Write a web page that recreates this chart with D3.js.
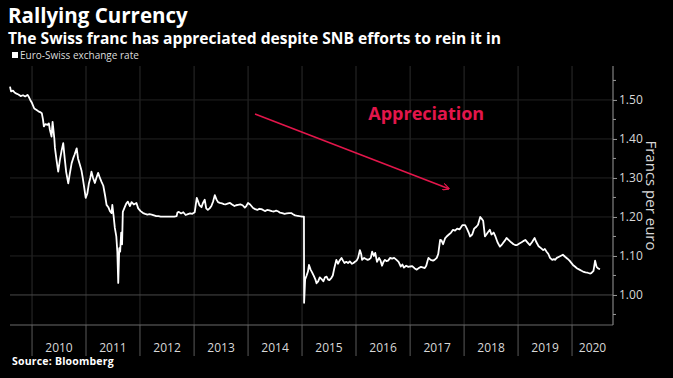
<!DOCTYPE html>
<html>
<head>
<meta charset="utf-8">
<script src="https://cdn.jsdelivr.net/npm/d3@7"></script>
<style>
  body { margin: 0; background: #000; }
  svg { display: block; font-family: "Open Sans", "DejaVu Sans", sans-serif; }
</style>
</head>
<body>
<div id="chart"></div>
<script>
// Euro-Swiss exchange rate
const dates = [
  "2009-08-05","2009-08-12","2009-08-25","2009-09-05","2009-09-18","2009-10-01","2009-10-16","2009-11-01","2009-11-16","2009-12-01","2009-12-10","2009-12-20",
  "2010-01-01","2010-01-16","2010-02-01","2010-02-16","2010-03-01","2010-03-08","2010-03-16","2010-03-22","2010-04-01","2010-04-16","2010-04-25","2010-05-01",
  "2010-05-13","2010-05-20","2010-06-01","2010-06-05","2010-06-16","2010-06-27","2010-07-08","2010-07-20","2010-07-31","2010-08-10","2010-08-20","2010-09-03",
  "2010-09-13","2010-09-26","2010-10-06","2010-10-16","2010-10-30","2010-11-08","2010-11-21","2010-12-01","2010-12-10","2010-12-20","2010-12-30",
  "2011-01-10","2011-01-20","2011-01-30","2011-02-07","2011-02-18","2011-03-02","2011-03-12","2011-03-24","2011-04-05","2011-04-16","2011-04-28","2011-05-10",
  "2011-05-20","2011-06-01","2011-06-12","2011-06-23","2011-06-28","2011-07-06","2011-07-15","2011-07-25","2011-08-01","2011-08-07","2011-08-14","2011-08-20",
  "2011-08-27","2011-09-02","2011-09-07","2011-09-20","2011-10-01","2011-10-11","2011-10-25","2011-11-05","2011-11-20","2011-12-08","2011-12-20",
  "2012-01-05","2012-01-22","2012-02-05","2012-02-20","2012-03-05","2012-03-20","2012-04-05","2012-04-20","2012-05-05","2012-05-20","2012-06-05","2012-06-20",
  "2012-07-05","2012-07-20","2012-08-05","2012-08-20","2012-09-05","2012-09-10","2012-09-20","2012-10-05","2012-10-20","2012-11-05","2012-11-20","2012-12-05","2012-12-20",
  "2013-01-05","2013-01-12","2013-01-19","2013-01-28","2013-02-06","2013-02-20","2013-03-01","2013-03-14","2013-03-24","2013-04-04","2013-04-16","2013-04-28",
  "2013-05-10","2013-05-21","2013-06-01","2013-06-12","2013-06-24","2013-07-08","2013-07-20","2013-08-01","2013-08-15","2013-09-01","2013-09-15","2013-10-01",
  "2013-10-12","2013-10-25","2013-11-10","2013-11-25","2013-12-10","2013-12-20",
  "2014-01-01","2014-01-15","2014-02-04","2014-02-18","2014-03-05","2014-03-18","2014-04-01","2014-04-12","2014-04-25","2014-05-10","2014-05-25","2014-06-10",
  "2014-06-25","2014-07-10","2014-07-25","2014-08-05","2014-08-20","2014-09-05","2014-09-20","2014-10-05","2014-10-20","2014-11-01","2014-11-15","2014-12-01","2014-12-15",
  "2015-01-01","2015-01-14","2015-01-15","2015-01-22","2015-02-01","2015-02-10","2015-02-17","2015-02-28","2015-03-10","2015-03-20","2015-04-01","2015-04-09",
  "2015-04-20","2015-05-01","2015-05-15","2015-05-25","2015-06-05","2015-06-16","2015-06-25","2015-07-05","2015-07-19","2015-07-28","2015-08-08","2015-08-21",
  "2015-09-01","2015-09-12","2015-09-25","2015-10-05","2015-10-15","2015-10-27","2015-11-08","2015-11-20","2015-12-05","2015-12-15","2015-12-25",
  "2016-01-05","2016-01-15","2016-01-27","2016-02-05","2016-02-11","2016-02-25","2016-03-05","2016-03-20","2016-04-01","2016-04-10","2016-04-19","2016-05-01",
  "2016-05-10","2016-05-22","2016-06-05","2016-06-15","2016-06-25","2016-07-05","2016-07-15","2016-07-25","2016-08-05","2016-08-19","2016-09-01","2016-09-15",
  "2016-10-01","2016-10-15","2016-10-30","2016-11-10","2016-11-20","2016-12-05","2016-12-20",
  "2017-01-01","2017-01-15","2017-02-01","2017-02-15","2017-03-01","2017-03-15","2017-04-01","2017-04-10","2017-04-20","2017-05-01","2017-05-05","2017-05-20",
  "2017-06-05","2017-06-15","2017-06-30","2017-07-10","2017-07-23","2017-08-01","2017-08-12","2017-08-25","2017-09-05","2017-09-20","2017-10-05","2017-10-18",
  "2017-11-01","2017-11-15","2017-12-01","2017-12-20",
  "2018-01-08","2018-01-20","2018-02-01","2018-02-10","2018-02-25","2018-03-10","2018-03-25","2018-04-05","2018-04-20","2018-05-01","2018-05-10","2018-05-22",
  "2018-06-01","2018-06-10","2018-06-24","2018-07-05","2018-07-20","2018-08-01","2018-08-15","2018-08-31","2018-09-15","2018-10-01","2018-10-15","2018-11-01",
  "2018-11-15","2018-12-01","2018-12-15","2018-12-25",
  "2019-01-10","2019-01-25","2019-02-05","2019-02-19","2019-03-05","2019-03-22","2019-04-05","2019-04-23","2019-05-05","2019-05-20","2019-06-05","2019-06-20",
  "2019-07-01","2019-07-13","2019-07-25","2019-08-05","2019-08-20","2019-09-01","2019-09-08","2019-09-20","2019-10-05","2019-10-15","2019-10-31","2019-11-15",
  "2019-12-01","2019-12-15",
  "2020-01-07","2020-01-20","2020-02-05","2020-02-20","2020-03-05","2020-03-15","2020-04-01","2020-04-15","2020-05-01","2020-05-10","2020-05-25","2020-06-05",
  "2020-06-15","2020-06-25","2020-07-08"
];
const rates = [
  1.534,1.522,1.524,1.519,1.516,1.514,1.510,1.512,1.509,1.513,1.508,1.500,
  1.492,1.478,1.474,1.470,1.468,1.466,1.450,1.432,1.438,1.436,1.440,1.425,
  1.406,1.444,1.400,1.377,1.345,1.316,1.345,1.370,1.389,1.350,1.315,1.286,
  1.310,1.338,1.350,1.360,1.376,1.350,1.333,1.320,1.300,1.275,1.249,
  1.260,1.285,1.300,1.316,1.300,1.287,1.300,1.313,1.300,1.290,1.280,1.255,
  1.231,1.225,1.215,1.210,1.231,1.205,1.172,1.150,1.110,1.031,1.120,1.111,
  1.160,1.130,1.213,1.225,1.235,1.239,1.228,1.238,1.232,1.236,1.222,
  1.215,1.210,1.208,1.206,1.207,1.206,1.204,1.202,1.202,1.201,1.201,1.201,
  1.201,1.201,1.201,1.201,1.202,1.211,1.213,1.209,1.212,1.205,1.207,1.209,1.208,
  1.212,1.230,1.249,1.240,1.230,1.225,1.235,1.244,1.222,1.218,1.222,1.228,
  1.240,1.256,1.245,1.238,1.236,1.235,1.233,1.232,1.234,1.236,1.232,1.228,
  1.230,1.231,1.232,1.230,1.224,1.228,
  1.236,1.232,1.223,1.220,1.218,1.221,1.220,1.218,1.215,1.218,1.217,1.215,
  1.214,1.216,1.214,1.211,1.210,1.208,1.209,1.210,1.210,1.207,1.204,1.203,1.202,
  1.201,1.201,0.980,1.040,1.050,1.060,1.077,1.065,1.058,1.050,1.040,1.030,
  1.035,1.045,1.040,1.035,1.045,1.047,1.040,1.038,1.044,1.050,1.070,1.090,
  1.080,1.088,1.095,1.088,1.082,1.085,1.082,1.086,1.080,1.082,1.085,
  1.088,1.095,1.115,1.105,1.090,1.095,1.093,1.090,1.092,1.095,1.111,1.100,
  1.108,1.085,1.095,1.088,1.075,1.085,1.090,1.087,1.088,1.095,1.093,1.095,
  1.090,1.085,1.073,1.078,1.070,1.075,1.072,
  1.073,1.074,1.068,1.065,1.069,1.072,1.070,1.069,1.075,1.090,1.095,1.090,
  1.088,1.090,1.095,1.105,1.141,1.140,1.130,1.145,1.150,1.155,1.160,1.167,
  1.165,1.170,1.168,1.179,
  1.179,1.170,1.160,1.150,1.155,1.170,1.175,1.180,1.200,1.195,1.190,1.150,
  1.155,1.160,1.167,1.155,1.160,1.150,1.135,1.124,1.130,1.138,1.146,1.140,
  1.135,1.130,1.128,1.128,
  1.132,1.135,1.138,1.141,1.135,1.128,1.135,1.146,1.135,1.125,1.120,1.115,
  1.118,1.111,1.105,1.095,1.090,1.092,1.090,1.095,1.098,1.100,1.103,1.098,
  1.093,1.088,
  1.077,1.073,1.068,1.065,1.062,1.060,1.058,1.057,1.055,1.056,1.062,1.088,
  1.072,1.068,1.066
];
const years = [2010, 2011, 2012, 2013, 2014, 2015, 2016, 2017, 2018, 2019, 2020];
const yTicks = [1.00, 1.10, 1.20, 1.30, 1.40, 1.50];
const yMinorTicks = [0.95, 1.05, 1.15, 1.25, 1.35, 1.45, 1.55];
const seriesName = "Euro-Swiss exchange rate";
// annotation arrow, in data units
const arrowStart = { date: "2014-02-17", value: 1.464 };
const arrowEnd = { date: "2017-09-20", value: 1.272 };
const noteLabel = { date: "2017-04-20", value: 1.462, text: "Appreciation" };

const width = 673, height = 378;
const plot = { left: 10, right: 613, top: 66, bottom: 325 };
const parse = d3.timeParse("%Y-%m-%d");
const data = dates.map((d, i) => ({ date: parse(d), value: rates[i] }));

const svg = d3.select("#chart").append("svg")
  .attr("width", width)
  .attr("height", height)
  .style("background", "#000");

const x = d3.scaleTime()
  .domain([parse("2009-08-05"), parse("2020-10-04")])
  .range([plot.left, plot.right]);

const y = d3.scaleLinear()
  .domain([0.923, 1.587])
  .range([plot.bottom, plot.top]);

// Titles
svg.append("text").attr("x", 8).attr("y", 23)
  .attr("fill", "#fff").attr("font-size", 20.5).attr("font-weight", "bold")
  .text("Rallying Currency");
svg.append("text").attr("x", 8).attr("y", 43.5)
  .attr("fill", "#fff").attr("font-size", 15.6).attr("font-weight", "bold")
  .text("The Swiss franc has appreciated despite SNB efforts to rein it in");

// Legend
svg.append("rect").attr("x", 12).attr("y", 52).attr("width", 6).attr("height", 6).attr("fill", "#fff");
svg.append("text").attr("x", 20).attr("y", 59)
  .attr("fill", "#ddd").attr("font-size", 10)
  .text(seriesName);

// Year grid lines and ticks
const yearStarts = years.map(yr => new Date(yr, 0, 1));
svg.append("g").selectAll("line.vgrid")
  .data(yearStarts).enter().append("line")
  .attr("x1", d => x(d)).attr("x2", d => x(d))
  .attr("y1", plot.top).attr("y2", plot.bottom)
  .attr("stroke", "#2b2b2b").attr("stroke-width", 1);
svg.append("g").selectAll("line.vtick")
  .data(yearStarts).enter().append("line")
  .attr("x1", d => x(d)).attr("x2", d => x(d))
  .attr("y1", plot.bottom).attr("y2", 356)
  .attr("stroke", "#5a5a5a").attr("stroke-width", 1);

// Horizontal grid
svg.append("g").selectAll("line.hgrid")
  .data(yTicks).enter().append("line")
  .attr("x1", plot.left).attr("x2", plot.right)
  .attr("y1", d => y(d)).attr("y2", d => y(d))
  .attr("stroke", d => d === 1 ? "#4a4a4a" : "#222")
  .attr("stroke-width", 1);

// Bottom axis line
svg.append("line")
  .attr("x1", plot.left).attr("x2", plot.right)
  .attr("y1", plot.bottom).attr("y2", plot.bottom)
  .attr("stroke", "#6a6a6a");

// Year labels, centred in each visible year span
svg.append("g").selectAll("text.year")
  .data(years).enter().append("text")
  .attr("x", yr => {
    const a = Math.max(x(new Date(yr, 0, 1)), plot.left);
    const b = Math.min(x(new Date(yr + 1, 0, 1)), plot.right);
    return (a + b) / 2;
  })
  .attr("y", 351.5)
  .attr("text-anchor", "middle")
  .attr("fill", "#d8d8d8").attr("font-size", 12)
  .text(d => d);

// Right axis
const yAxis = svg.append("g")
  .attr("transform", `translate(${plot.right},0)`)
  .call(d3.axisRight(y).tickValues(yTicks).tickFormat(d3.format(".2f")).tickSize(4).tickPadding(2));
yAxis.select(".domain").attr("stroke", "#9a9a9a").attr("d", `M0,${plot.top}V${plot.bottom}`);
yAxis.selectAll(".tick line").attr("stroke", "#9a9a9a");
yAxis.selectAll(".tick text").attr("fill", "#d8d8d8").attr("font-size", 12)
  .attr("font-family", '"Open Sans", sans-serif');
svg.append("g").selectAll("line.minor")
  .data(yMinorTicks).enter().append("line")
  .attr("x1", plot.right).attr("x2", plot.right + 3)
  .attr("y1", d => y(d)).attr("y2", d => y(d))
  .attr("stroke", "#9a9a9a");

svg.append("text")
  .attr("transform", `translate(646,${(plot.top + plot.bottom) / 2}) rotate(90)`)
  .attr("text-anchor", "middle")
  .attr("fill", "#d8d8d8").attr("font-size", 15)
  .text("Francs per euro");

// Series line
const line = d3.line().x(d => x(d.date)).y(d => y(d.value));
svg.append("path").datum(data)
  .attr("d", line)
  .attr("fill", "none")
  .attr("stroke", "#fff")
  .attr("stroke-width", 1.8)
  .attr("stroke-linejoin", "round");

// Annotation
const red = "#e3164b";
svg.append("defs").append("marker")
  .attr("id", "arrowhead")
  .attr("viewBox", "0 0 10 10")
  .attr("refX", 9).attr("refY", 5)
  .attr("markerWidth", 7).attr("markerHeight", 7)
  .attr("markerUnits", "userSpaceOnUse")
  .attr("orient", "auto")
  .append("path")
  .attr("d", "M0,0L10,5L0,10")
  .attr("fill", "none").attr("stroke", red).attr("stroke-width", 1.6);

svg.append("line")
  .attr("x1", x(parse(arrowStart.date))).attr("y1", y(arrowStart.value))
  .attr("x2", x(parse(arrowEnd.date))).attr("y2", y(arrowEnd.value))
  .attr("stroke", red).attr("stroke-width", 1.6)
  .attr("marker-end", "url(#arrowhead)");

svg.append("text")
  .attr("x", x(parse(noteLabel.date))).attr("y", y(noteLabel.value))
  .attr("text-anchor", "middle").attr("dominant-baseline", "middle")
  .attr("fill", red).attr("font-size", 18).attr("font-weight", "bold")
  .text(noteLabel.text);

// Source
svg.append("text").attr("x", 12).attr("y", 365)
  .attr("fill", "#fff").attr("font-size", 10.5).attr("font-weight", "bold")
  .attr("letter-spacing", 0.2)
  .text("Source: Bloomberg");
</script>
</body>
</html>
